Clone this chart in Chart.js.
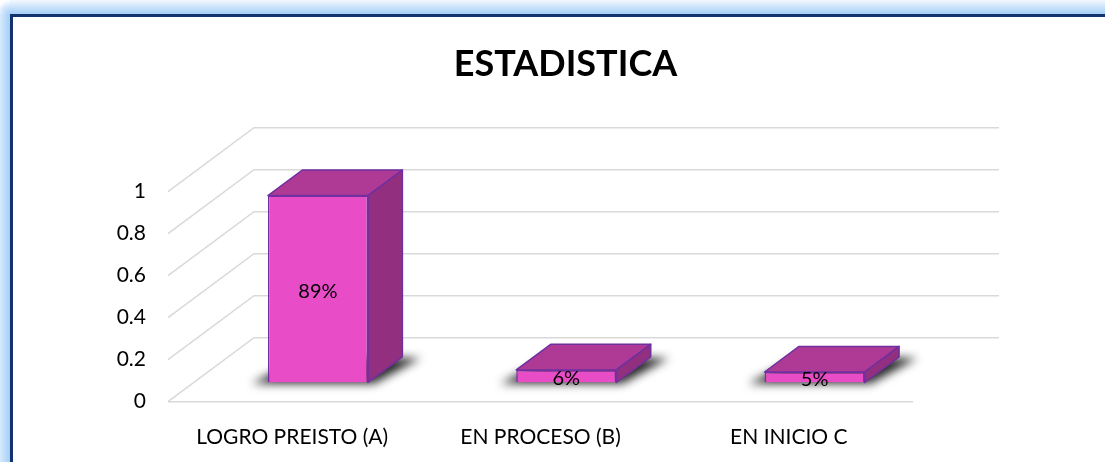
<!DOCTYPE html>
<html><head><meta charset="utf-8">
<script src="https://cdn.jsdelivr.net/npm/chart.js@4"></script>
<style>
html,body{margin:0;padding:0;background:#fff;overflow:hidden;}
canvas{display:block;}
</style></head>
<body><canvas id="c" width="1105" height="462"></canvas>
<script>
const chartTitle = 'ESTADISTICA';
const categories = ['LOGRO PREISTO (A)', 'EN PROCESO (B)', 'EN INICIO C'];
const values = [0.89, 0.06, 0.05];
const valueLabels = ['89%', '6%', '5%'];
const yTickValues = [0, 0.2, 0.4, 0.6, 0.8, 1];
const yTickLabels = ['0', '0.2', '0.4', '0.6', '0.8', '1'];

// 3D styling
const DEPTH_X = 86, DEPTH_Y = 64;
const BAR_FRONT = 0.3, BAR_BACK = 0.7;
const FRONT = '#E84CC7', TOPC = '#AE3A96', SIDE = '#922F7E', EDGE = '#7030A0';
const GRID = '#D9D9D9';

const framePlugin = {
  id: 'frame',
  beforeDraw(chart) {
    const { ctx, width, height } = chart;
    ctx.save();
    ctx.fillStyle = '#fff';
    ctx.fillRect(0, 0, width, height);
    let g = ctx.createLinearGradient(0, 0, 0, 14);
    g.addColorStop(0, '#f4f9fe'); g.addColorStop(0.45, '#cfe5fb'); g.addColorStop(1, '#a6cff7');
    ctx.fillStyle = g; ctx.fillRect(10, 0, width - 10, 14);
    g = ctx.createLinearGradient(0, 0, 10, 0);
    g.addColorStop(0, '#d8eafc'); g.addColorStop(0.5, '#bcdcfa'); g.addColorStop(1, '#a6cff7');
    ctx.fillStyle = g; ctx.fillRect(0, 14, 10, height - 14);
    g = ctx.createRadialGradient(10, 14, 0, 10, 14, 14);
    g.addColorStop(0, '#a6cff7'); g.addColorStop(0.6, '#d6e9fc'); g.addColorStop(1, '#ffffff');
    ctx.fillStyle = g; ctx.fillRect(0, 0, 10, 14);
    ctx.fillStyle = '#13336e';
    ctx.fillRect(10, 14, width - 10, 3);
    ctx.fillRect(10, 14, 3, height - 14);
    ctx.restore();
  }
};

const threeD = {
  id: 'threeD',
  beforeDatasetsDraw(chart) {
    const { ctx, chartArea: a, scales: { y } } = chart;
    ctx.save();
    ctx.strokeStyle = GRID; ctx.lineWidth = 1.5;
    yTickValues.forEach(v => {
      const py = y.getPixelForValue(v);
      ctx.beginPath();
      ctx.moveTo(a.left, py);
      ctx.lineTo(a.left + DEPTH_X, py - DEPTH_Y);
      ctx.lineTo(a.right + DEPTH_X, py - DEPTH_Y);
      ctx.stroke();
    });
    const p0 = y.getPixelForValue(0);
    ctx.beginPath(); ctx.moveTo(a.left, p0); ctx.lineTo(a.right, p0); ctx.stroke();
    const meta = chart.getDatasetMeta(0);
    const fx = DEPTH_X * BAR_FRONT, fy = DEPTH_Y * BAR_FRONT;
    const dx = DEPTH_X * (BAR_BACK - BAR_FRONT), dy = DEPTH_Y * (BAR_BACK - BAR_FRONT);
    ctx.filter = 'blur(5px)';
    ctx.fillStyle = 'rgba(0,0,0,0.85)';
    meta.data.forEach(bar => {
      const { x, width, base } = bar.getProps(['x', 'width', 'base'], true);
      const l = x - width / 2 + fx, r = x + width / 2 + fx, b = base - fy;
      ctx.beginPath();
      ctx.moveTo(l - 16, b + 1); ctx.lineTo(r + 6, b + 1);
      ctx.lineTo(r + dx + 18, b - dy + 1); ctx.lineTo(l + dx, b - dy + 1);
      ctx.closePath(); ctx.fill();
    });
    ctx.filter = 'none';
    ctx.restore();
    ctx.save();
    ctx.translate(fx, -fy);
  },
  afterDatasetsDraw(chart) {
    const { ctx } = chart;
    ctx.restore();
    const meta = chart.getDatasetMeta(0);
    const fx = DEPTH_X * BAR_FRONT, fy = DEPTH_Y * BAR_FRONT;
    const dx = DEPTH_X * (BAR_BACK - BAR_FRONT), dy = DEPTH_Y * (BAR_BACK - BAR_FRONT);
    ctx.save();
    ctx.lineWidth = 1.5; ctx.strokeStyle = EDGE; ctx.lineJoin = 'round';
    meta.data.forEach((bar, i) => {
      const { x, y, width, base } = bar.getProps(['x', 'y', 'width', 'base'], true);
      const l = x - width / 2 + fx, r = x + width / 2 + fx, t = y - fy, b = base - fy;
      ctx.beginPath();
      ctx.moveTo(l, t); ctx.lineTo(r, t); ctx.lineTo(r + dx, t - dy); ctx.lineTo(l + dx, t - dy); ctx.closePath();
      ctx.fillStyle = TOPC; ctx.fill(); ctx.stroke();
      ctx.beginPath();
      ctx.moveTo(r, t); ctx.lineTo(r + dx, t - dy); ctx.lineTo(r + dx, b - dy); ctx.lineTo(r, b); ctx.closePath();
      ctx.fillStyle = SIDE; ctx.fill(); ctx.stroke();
    });
    ctx.fillStyle = '#000';
    ctx.font = '20px Lato';
    ctx.textAlign = 'center'; ctx.textBaseline = 'middle';
    meta.data.forEach((bar, i) => {
      const { x, y, base } = bar.getProps(['x', 'y', 'base'], true);
      ctx.fillText(valueLabels[i], x + fx, (y + base) / 2 - fy + 2);
    });
    ctx.restore();
  }
};

new Chart(document.getElementById('c'), {
  type: 'bar',
  data: {
    labels: categories,
    datasets: [{
      data: values,
      backgroundColor: FRONT,
      borderColor: EDGE,
      borderWidth: 1.5,
      barPercentage: 0.403,
      categoryPercentage: 1
    }]
  },
  options: {
    responsive: false,
    animation: false,
    devicePixelRatio: 1,
    layout: { padding: { left: 26, right: 0, top: 0, bottom: 0 } },
    plugins: {
      legend: { display: false },
      tooltip: { enabled: false },
      title: {
        display: true, text: chartTitle, color: '#000',
        font: { family: 'Lato', size: 36, weight: 'bold', lineHeight: 1.2 },
        padding: { top: 42.9, bottom: 105.6 }
      }
    },
    scales: {
      x: {
        grid: { display: false, drawTicks: false },
        border: { display: false },
        ticks: { color: '#000', font: { family: 'Lato', size: 21 }, padding: 23 },
        afterFit(s) { s.height = 60.3; }
      },
      y: {
        min: 0, max: 1,
        grid: { display: false, drawTicks: false },
        border: { display: false },
        ticks: {
          stepSize: 0.2, color: '#000', font: { family: 'Lato', size: 21 }, padding: 22,
          callback: (v, i) => yTickLabels[i]
        },
        afterFit(s) { s.width = 142; }
      },
      yRight: {
        position: 'right',
        min: 0, max: 1,
        grid: { display: false, drawTicks: false },
        border: { display: false },
        ticks: { display: false },
        afterFit(s) { s.width = 192; }
      }
    }
  },
  plugins: [framePlugin, threeD]
});
</script>
</body></html>
